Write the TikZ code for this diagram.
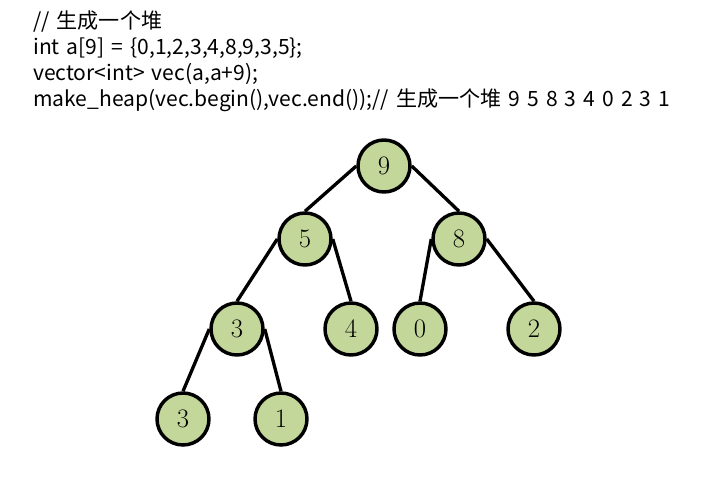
\documentclass[tikz,border=0pt]{standalone}
\usepackage{fontspec}
\newfontfamily\cjk[WordSpace=1.5]{Noto Sans CJK SC}
\definecolor{heapgreen}{RGB}{196,215,155}
\begin{document}
\begin{tikzpicture}[x=0.75pt,y=-0.75pt,
  hn/.style={circle,draw=black,line width=2.6pt,fill=heapgreen,minimum size=39pt,inner sep=0pt,font=\fontsize{20}{20}\selectfont},
  edge/.style={line width=2.5pt,draw=black},
  codeline/.style={anchor=base west,inner sep=0pt,font=\cjk\fontsize{15.8}{16}\selectfont}]
\useasboundingbox (0,0) rectangle (703,479);
\node[codeline] (l1) at (33,28) {// 生成一个堆};
\node[codeline] (l2) at (33,54) {int a[9] = \{0,1,2,3,4,8,9,3,5\};};
\node[codeline] (l3) at (33,80) {vector<int> vec(a,a+9);};
\node[codeline] (l4) at (33,106) {make\_heap(vec.begin(),vec.end());// 生成一个堆 9 5 8 3 4 0 2 3 1};
\node[hn] (n9) at (384,166) {9};
\node[hn] (n5) at (305,239) {5};
\node[hn] (n8) at (459,239) {8};
\node[hn] (n3) at (237,329) {3};
\node[hn] (n4) at (351,329) {4};
\node[hn] (n0) at (420,329) {0};
\node[hn] (n2) at (534,329) {2};
\node[hn] (n3b) at (183,419) {3};
\node[hn] (n1) at (281,419) {1};
\draw[edge] (n9.west) -- (n5.north);
\draw[edge] (n9.east) -- (n8.north);
\draw[edge] (n5.west) -- (n3.north);
\draw[edge] (n5.east) -- (n4.north);
\draw[edge] (n8.west) -- (n0.north);
\draw[edge] (n8.east) -- (n2.north);
\draw[edge] (n3.west) -- (n3b.north);
\draw[edge] (n3.east) -- (n1.north);
\end{tikzpicture}
\end{document}
